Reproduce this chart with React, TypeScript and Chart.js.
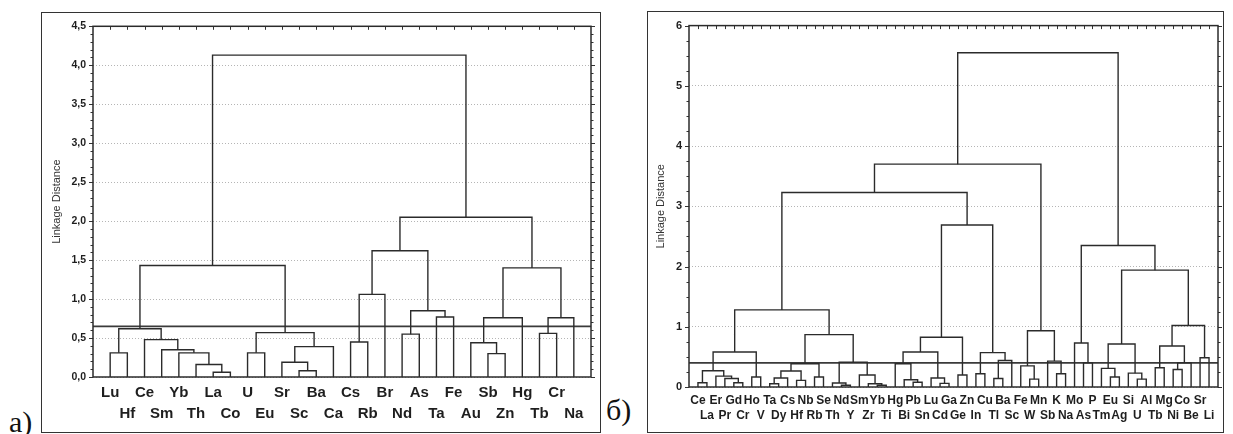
import React, { useEffect, useRef } from "react";
import { Chart, registerables } from "chart.js";

Chart.register(...registerables);

type Ref = string | number; // string = leaf label, number = index of an earlier merge
type Merge = [Ref, Ref, number];

// ---------- Panel a) ----------
const leavesA = ["Lu", "Hf", "Ce", "Sm", "Yb", "Th", "La", "Co", "U", "Eu", "Sr", "Sc", "Ba", "Ca",
  "Cs", "Rb", "Br", "Nd", "As", "Ta", "Fe", "Au", "Sb", "Zn", "Hg", "Tb", "Cr", "Na"];
const mergesA: Merge[] = [
  ["Lu", "Hf", 0.31], // 0
  ["La", "Co", 0.06], // 1
  ["Th", 1, 0.16], // 2
  ["Yb", 2, 0.31], // 3
  ["Sm", 3, 0.35], // 4
  ["Ce", 4, 0.48], // 5
  [0, 5, 0.62], // 6
  ["U", "Eu", 0.31], // 7
  ["Sc", "Ba", 0.08], // 8
  ["Sr", 8, 0.19], // 9
  [9, "Ca", 0.39], // 10
  [7, 10, 0.57], // 11
  [6, 11, 1.43], // 12
  ["Cs", "Rb", 0.45], // 13
  [13, "Br", 1.06], // 14
  ["Nd", "As", 0.55], // 15
  ["Ta", "Fe", 0.77], // 16
  [15, 16, 0.85], // 17
  [14, 17, 1.62], // 18
  ["Sb", "Zn", 0.30], // 19
  ["Au", 19, 0.44], // 20
  [20, "Hg", 0.76], // 21
  ["Tb", "Cr", 0.56], // 22
  [22, "Na", 0.76], // 23
  [21, 23, 1.40], // 24
  [18, 24, 2.05], // 25
  [12, 25, 4.13], // 26
];
const cutA = 0.65;
const yTicksA = [0, 0.5, 1, 1.5, 2, 2.5, 3, 3.5, 4, 4.5];

// ---------- Panel б) ----------
const leavesB = ["Ce", "La", "Er", "Pr", "Gd", "Cr", "Ho", "V", "Ta", "Dy", "Cs", "Hf", "Nb", "Rb",
  "Se", "Th", "Nd", "Y", "Sm", "Zr", "Yb", "Ti", "Hg", "Bi", "Pb", "Sn", "Lu", "Cd", "Ga", "Ge",
  "Zn", "In", "Cu", "Tl", "Ba", "Sc", "Fe", "W", "Mn", "Sb", "K", "Na", "Mo", "As", "P", "Tm",
  "Eu", "Ag", "Si", "U", "Al", "Tb", "Mg", "Ni", "Co", "Be", "Sr", "Li"];
const mergesB: Merge[] = [
  ["Ce", "La", 0.07], // 0
  ["Gd", "Cr", 0.07], // 1
  ["Pr", 1, 0.14], // 2
  ["Er", 2, 0.18], // 3
  [0, 3, 0.27], // 4
  ["Ho", "V", 0.165], // 5
  [4, 5, 0.58], // 6
  ["Ta", "Dy", 0.055], // 7
  [7, "Cs", 0.15], // 8
  ["Hf", "Nb", 0.11], // 9
  [8, 9, 0.265], // 10
  ["Rb", "Se", 0.165], // 11
  [10, 11, 0.385], // 12
  ["Nd", "Y", 0.03], // 13
  ["Th", 13, 0.066], // 14
  ["Yb", "Ti", 0.03], // 15
  ["Zr", 15, 0.055], // 16
  ["Sm", 16, 0.2], // 17
  [14, 17, 0.41], // 18
  [12, 18, 0.87], // 19
  [6, 19, 1.28], // 20
  ["Pb", "Sn", 0.08], // 21
  ["Bi", 21, 0.12], // 22
  ["Hg", 22, 0.385], // 23
  ["Cd", "Ga", 0.06], // 24
  ["Lu", 24, 0.15], // 25
  [23, 25, 0.58], // 26
  ["Ge", "Zn", 0.2], // 27
  [26, 27, 0.825], // 28
  ["In", "Cu", 0.22], // 29
  ["Tl", "Ba", 0.14], // 30
  [30, "Sc", 0.44], // 31
  [29, 31, 0.57], // 32
  [28, 32, 2.69], // 33
  [20, 33, 3.23], // 34
  ["W", "Mn", 0.13], // 35
  ["Fe", 35, 0.35], // 36
  ["K", "Na", 0.22], // 37
  ["Sb", 37, 0.43], // 38
  [36, 38, 0.935], // 39
  [34, 39, 3.70], // 40
  ["As", "P", 0.40], // 41
  ["Mo", 41, 0.73], // 42
  ["Eu", "Ag", 0.165], // 43
  ["Tm", 43, 0.31], // 44
  ["U", "Al", 0.13], // 45
  ["Si", 45, 0.23], // 46
  [44, 46, 0.715], // 47
  ["Tb", "Mg", 0.32], // 48
  ["Ni", "Co", 0.29], // 49
  [49, "Be", 0.40], // 50
  [48, 50, 0.68], // 51
  ["Sr", "Li", 0.485], // 52
  [51, 52, 1.02], // 53
  [47, 53, 1.94], // 54
  [42, 54, 2.35], // 55
  [40, 55, 5.55], // 56
];
const cutB = 0.4;
const yTicksB = [0, 1, 2, 3, 4, 5, 6];

const axisTitle = "Linkage Distance";
const SANS = "'Liberation Sans', Arial, sans-serif";

function buildLinks(leaves: string[], merges: Merge[]) {
  const pos = new Map<string, number>(leaves.map((l, i) => [l, i + 1]));
  const nodeX: number[] = [];
  const nodeH: number[] = [];
  const get = (r: Ref) =>
    typeof r === "string" ? { x: pos.get(r) as number, h: 0 } : { x: nodeX[r], h: nodeH[r] };
  return merges.map(([a, b, h], k) => {
    const A = get(a);
    const B = get(b);
    nodeX[k] = (A.x + B.x) / 2;
    nodeH[k] = h;
    return [
      { x: A.x, y: A.h },
      { x: A.x, y: h },
      { x: B.x, y: h },
      { x: B.x, y: B.h },
    ];
  });
}

interface PanelProps {
  leaves: string[];
  merges: Merge[];
  cut: number;
  yTicks: number[];
  minorStep: number;
  width: number;
  height: number;
  yAxisWidth: number;
  xAxisHeight: number;
  padTop: number;
  padRight: number;
  titlePad: number;
  xFont: number;
  xLineHeight: number;
  xPad: number;
  yFont: number;
  fmt: (v: number) => string;
}

function Dendrogram(p: PanelProps) {
  const ref = useRef<HTMLCanvasElement>(null);
  useEffect(() => {
    const n = p.leaves.length;
    const yMax = p.yTicks[p.yTicks.length - 1];
    const links = buildLinks(p.leaves, p.merges);
    const datasets: any[] = links.map((pts) => ({
      data: pts,
      showLine: true,
      borderColor: "#2b2b2b",
      borderWidth: 1.4,
      pointRadius: 0,
      fill: false,
    }));
    datasets.push({
      data: [
        { x: 0, y: p.cut },
        { x: n + 1, y: p.cut },
      ],
      showLine: true,
      borderColor: "#3a3a3a",
      borderWidth: 1.8,
      pointRadius: 0,
      fill: false,
    });

    const frame = {
      id: "frame",
      afterDraw(c: any) {
        const { ctx, chartArea: a } = c;
        const ys = c.scales.y;
        const xs = c.scales.x;
        ctx.save();
        ctx.strokeStyle = "#333";
        ctx.lineWidth = 1;
        ctx.beginPath();
        const steps = Math.round(yMax / p.minorStep);
        for (let k = 0; k <= steps; k++) {
          const v = k * p.minorStep;
          const py = Math.round(ys.getPixelForValue(v)) + 0.5;
          const major = p.yTicks.some((t) => Math.abs(t - v) < 1e-6);
          const len = major ? 4 : 2.5;
          ctx.moveTo(a.left - len, py);
          ctx.lineTo(a.left, py);
          ctx.moveTo(a.right, py);
          ctx.lineTo(a.right + len, py);
        }
        for (let i = 1; i <= n; i++) {
          const px = Math.round(xs.getPixelForValue(i)) + 0.5;
          ctx.moveTo(px, a.top);
          ctx.lineTo(px, a.top + 3.5);
        }
        ctx.stroke();
        ctx.lineWidth = 1.5;
        ctx.strokeStyle = "#2b2b2b";
        ctx.strokeRect(a.left, a.top, a.right - a.left, a.bottom - a.top);
        ctx.restore();
      },
    };

    const chart = new Chart(ref.current as HTMLCanvasElement, {
      type: "scatter",
      data: { datasets },
      options: {
        responsive: false,
        animation: false,
        events: [],
        layout: { padding: { top: p.padTop, right: p.padRight, left: 0, bottom: 0 } },
        plugins: { legend: { display: false }, tooltip: { enabled: false } },
        scales: {
          x: {
            type: "linear",
            min: 0,
            max: n + 1,
            afterBuildTicks: (s: any) => {
              s.ticks = p.leaves.map((_, i) => ({ value: i + 1 }));
            },
            afterFit: (s: any) => {
              s.height = p.xAxisHeight;
            },
            grid: { display: false, drawTicks: false },
            border: { display: false },
            ticks: {
              autoSkip: false,
              maxRotation: 0,
              minRotation: 0,
              padding: p.xPad,
              color: "#1e1e1e",
              font: { family: SANS, size: p.xFont, weight: "bold", lineHeight: p.xLineHeight },
              callback: (v: any) => {
                const i = Math.round(Number(v)) - 1;
                const l = p.leaves[i] ?? "";
                return i % 2 === 0 ? [l, ""] : ["", l];
              },
            },
          },
          y: {
            type: "linear",
            min: 0,
            max: yMax,
            afterBuildTicks: (s: any) => {
              s.ticks = p.yTicks.map((v) => ({ value: v }));
            },
            afterFit: (s: any) => {
              s.width = p.yAxisWidth;
            },
            grid: { color: "#b5b5b5", lineWidth: 1, drawTicks: false },
            border: { display: false, dash: [1, 2] },
            ticks: {
              padding: 7,
              color: "#1e1e1e",
              font: { family: SANS, size: p.yFont, weight: "bold" },
              callback: (v: any) => p.fmt(Number(v)),
            },
            title: {
              display: true,
              text: axisTitle,
              color: "#333",
              font: { family: SANS, size: 11 },
              padding: { top: p.titlePad, bottom: 0 },
            },
          },
        },
      } as any,
      plugins: [frame],
    });
    return () => chart.destroy();
  }, []);
  return <canvas ref={ref} width={p.width} height={p.height} style={{ display: "block" }} />;
}

export default function App() {
  const panelLabel: React.CSSProperties = {
    position: "absolute",
    font: "30px 'Liberation Serif', 'Times New Roman', serif",
    lineHeight: "30px",
    color: "#111",
  };
  return (
    <div
      style={{
        position: "absolute",
        left: 0,
        top: 0,
        width: 1233,
        height: 434,
        background: "#fff",
        overflow: "hidden",
      }}
    >
      <span style={{ ...panelLabel, left: 9, top: 407 }}>a)</span>
      <div
        style={{
          position: "absolute",
          left: 41,
          top: 12,
          width: 558,
          height: 419,
          border: "1px solid #333",
        }}
      >
        <Dendrogram
          leaves={leavesA}
          merges={mergesA}
          cut={cutA}
          yTicks={yTicksA}
          minorStep={0.1}
          width={558}
          height={419}
          yAxisWidth={51}
          xAxisHeight={55}
          padTop={11}
          padRight={9}
          titlePad={8}
          xFont={15}
          xLineHeight={1.4}
          xPad={5}
          yFont={10.5}
          fmt={(v) => v.toFixed(1).replace(".", ",")}
        />
      </div>
      <span style={{ ...panelLabel, left: 606, top: 395 }}>б)</span>
      <div
        style={{
          position: "absolute",
          left: 647,
          top: 11,
          width: 575,
          height: 420,
          border: "1px solid #333",
        }}
      >
        <Dendrogram
          leaves={leavesB}
          merges={mergesB}
          cut={cutB}
          yTicks={yTicksB}
          minorStep={0.25}
          width={575}
          height={420}
          yAxisWidth={41}
          xAxisHeight={45}
          padTop={11}
          padRight={5}
          titlePad={6}
          xFont={12}
          xLineHeight={1.25}
          xPad={6}
          yFont={11}
          fmt={(v) => String(Math.round(v))}
        />
      </div>
    </div>
  );
}
